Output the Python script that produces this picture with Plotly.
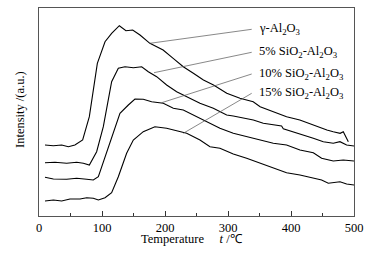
import plotly.graph_objects as go

# gamma-Al2O3
t1 = [9.5, 22.8, 36, 46.6, 57, 69.3, 79.9, 86.2, 92.6, 104.8, 115.3, 127.5, 138, 148.7, 160.3, 176, 197, 213, 229, 245, 261, 277, 298, 319, 340, 351, 372, 393, 414, 435, 457, 467, 478, 483, 491]
v1 = [71, 70.3, 71, 69.3, 71, 76, 99.3, 126, 152.7, 174.3, 182.7, 190.3, 185.3, 186, 181, 172.7, 166, 157.7, 149.3, 142.7, 136, 131, 122.7, 117.7, 114.3, 109.3, 104.3, 99.3, 96, 91, 86, 84.3, 82.7, 84.3, 74.3]

# 5% SiO2-Al2O3
t2 = [9.5, 25.4, 43.9, 59.8, 70.4, 79.9, 91.5, 102.1, 115.3, 125.9, 136.5, 149.8, 163, 173.5, 186.8, 202.6, 218.5, 234.4, 255.5, 276.7, 297.9, 308.4, 329.6, 340.2, 356, 371.9, 385.1, 387.8, 403.6, 419.5, 435.4, 451.3, 467.1, 477.7, 488.3, 500]
v2 = [53.3, 53.7, 52.7, 53.7, 52.7, 51, 64.3, 89.3, 134.3, 147.7, 149.3, 148.3, 149.3, 144.3, 139.3, 131, 124.3, 119.3, 112.7, 107.7, 101, 100, 97.7, 96, 92.7, 91, 90, 87.3, 84.3, 81, 77.7, 74.3, 72.7, 74.3, 71, 70]

# 10% SiO2-Al2O3
t3 = [9.5, 22.8, 43.9, 59.8, 75.7, 86.2, 94.2, 104.8, 115.3, 128.5, 141.8, 152.3, 165.5, 178.8, 197.3, 213.2, 229, 244.9, 266, 287.2, 308.4, 329.6, 350.7, 371.9, 393, 414.2, 435.4, 448.6, 467.1, 483, 500]
v3 = [38.7, 37, 36.7, 37.7, 36.7, 36, 39.3, 59.3, 79.3, 102.7, 111, 117, 116.7, 114.3, 112.7, 107.7, 106, 101, 94.3, 87.7, 82.7, 79.3, 76, 72.7, 71, 66, 63.3, 57.7, 55, 56, 55]

# 15% SiO2-Al2O3
t4 = [9.5, 22.8, 36, 49.2, 65.1, 75.7, 86.2, 94.2, 104.8, 115.3, 125.9, 139.1, 149.7, 165.5, 184, 202.6, 218.5, 234.4, 255.5, 271.4, 287.2, 308.4, 329.6, 350.7, 371.9, 393, 414.2, 435.4, 448.6, 459.2, 467.1, 477.7, 488.3, 500]
v4 = [15, 16, 15, 17, 17, 18.3, 17.7, 16, 18.3, 23.3, 39.3, 62.7, 76, 84.3, 89.3, 87.7, 85.3, 82.7, 76, 69.3, 67.7, 62, 57.7, 52.7, 47.7, 43.3, 41, 38.3, 36, 32.7, 33.3, 34.3, 32, 31]

labels = ["γ-Al<sub>2</sub>O<sub>3</sub>",
          "5% SiO<sub>2</sub>-Al<sub>2</sub>O<sub>3</sub>",
          "10% SiO<sub>2</sub>-Al<sub>2</sub>O<sub>3</sub>",
          "15% SiO<sub>2</sub>-Al<sub>2</sub>O<sub>3</sub>"]

# leader lines: start on curve -> end near label
lead_x0 = [176, 182.5, 194.7, 229]
lead_y0 = [172.7, 143.3, 113.3, 82.7]
lead_x1 = [337.6, 337.6, 337.6, 337.6]
lead_y1 = [186.7, 163.7, 142, 122.7]
label_x = [346, 346, 346, 346]
label_y = [186.7, 163.7, 142, 122.7]

x_ticks = [0, 100, 200, 300, 400, 500]

fig = go.Figure()
for t, v in [(t1, v1), (t2, v2), (t3, v3), (t4, v4)]:
    fig.add_trace(go.Scatter(x=t, y=v, mode="lines", hoverinfo="skip",
                             line=dict(color="black", width=1.1), showlegend=False))

for i in range(4):
    fig.add_trace(go.Scatter(x=[lead_x0[i], lead_x1[i]], y=[lead_y0[i], lead_y1[i]],
                             mode="lines", line=dict(color="#555555", width=0.7),
                             hoverinfo="skip", showlegend=False))
    fig.add_annotation(x=label_x[i], y=label_y[i], text=labels[i], showarrow=False,
                       xanchor="left", yanchor="middle",
                       font=dict(family="Liberation Serif", size=12.5, color="black"))

# axis titles as annotations (paper coords)
fig.add_annotation(x=(192 - 39) / 315, y=-(239 - 216) / 208, xref="paper", yref="paper",
                   text="Temperature     <i>t</i> /℃", showarrow=False,
                   xanchor="center", yanchor="middle",
                   font=dict(family="Liberation Serif", size=12.5, color="black"))
fig.add_annotation(x=-(39 - 20) / 315, y=(216 - 110) / 208, xref="paper", yref="paper",
                   text="Intensity /(a.u.)", showarrow=False, textangle=-90,
                   xanchor="center", yanchor="middle",
                   font=dict(family="Liberation Serif", size=12.5, color="black"))

fig.update_layout(
    width=382, height=259,
    margin=dict(l=39, r=28, t=8, b=43, autoexpand=False),
    plot_bgcolor="white", paper_bgcolor="white",
    font=dict(family="Liberation Serif", size=12.5, color="black"),
    xaxis=dict(range=[0, 500], tickvals=x_ticks, ticks="inside", ticklen=5,
               tickcolor="#333", showgrid=False, zeroline=False, automargin=False,
               showline=True, linecolor="#555", linewidth=1, mirror=True,
               minor=dict(ticks="inside", ticklen=3, dtick=50, tickcolor="#333")),
    yaxis=dict(range=[0, 208], showticklabels=False, ticks="", showgrid=False,
               zeroline=False, automargin=False, showline=True, linecolor="#555",
               linewidth=1, mirror=True),
)

fig.write_html("out.html", config={"displayModeBar": False},
               post_script="document.body.style.margin='0';document.body.style.overflow='hidden';")
